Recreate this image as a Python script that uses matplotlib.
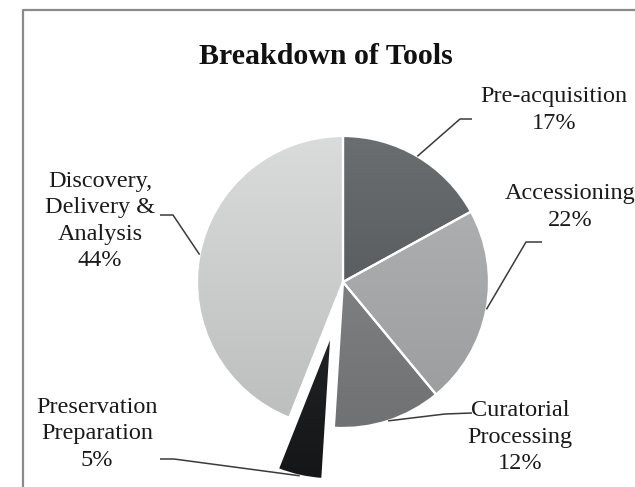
import numpy as np
import matplotlib
matplotlib.use("Agg")
import matplotlib.pyplot as plt
from matplotlib.colors import LinearSegmentedColormap
from matplotlib.patches import Wedge

W, H = 635, 487

# ---- data ----
categories = ["Pre-acquisition", "Accessioning", "Curatorial\nProcessing",
              "Preservation\nPreparation", "Discovery,\nDelivery &\nAnalysis"]
values = [17, 22, 12, 5, 44]
explode_frac = [0, 0, 0, 0.36, 0]
top_colors = ["#6b6e70", "#b3b5b6", "#8b8d8e", "#2c2e30", "#dadbdb"]
bottom_colors = ["#4b4e50", "#999b9c", "#6f7172", "#141618", "#bcbdbd"]
title = "Breakdown of Tools"

# ---- layout (pixel coordinates, y measured from top) ----
center_px = (343, 282)
radius = 146
label_pos = [(554, 110), (570, 207), (520, 437), (97, 434), (100, 221)]
elbow_pos = [(460, 119), (526, 242), (445, 414), (174, 459), (173, 215)]
tail_pos = [(472, 119), (542, 242), (472, 413), (160, 459), (160, 215)]

def px(p):
    return (p[0], H - p[1])

fig = plt.figure(figsize=(W / 100, H / 100), dpi=100)
ax = fig.add_axes([0, 0, 1, 1])

serif = ["Liberation Serif", "DejaVu Serif"]

wedges, _ = ax.pie(values, startangle=90, counterclock=False,
                   explode=[e * radius for e in explode_frac],
                   colors=top_colors, center=px(center_px), radius=radius,
                   wedgeprops=dict(edgecolor="white", linewidth=1.6),
                   frame=True)
ax.set_xlim(0, W)
ax.set_ylim(0, H)
ax.set_aspect("equal")
ax.axis("off")

# gradient fill per wedge
for w, c0, c1 in zip(wedges, top_colors, bottom_colors):
    cmap = LinearSegmentedColormap.from_list("g", [c1, c0])
    cx, cy = w.center
    grad = np.linspace(0, 1, 256).reshape(-1, 1)
    im = ax.imshow(grad, cmap=cmap, origin="lower", aspect="auto",
                   extent=(cx - radius, cx + radius, cy - radius, cy + radius),
                   zorder=w.get_zorder() + 0.1, interpolation="bilinear")
    im.set_clip_path(w)
    edge = Wedge(w.center, w.r, w.theta1, w.theta2, facecolor="none",
                 edgecolor="white", linewidth=1.6, zorder=w.get_zorder() + 0.2)
    ax.add_patch(edge)
ax.set_xlim(0, W)
ax.set_ylim(0, H)

# labels with leader lines
for w, cat, v, lp, ep, tp in zip(wedges, categories, values, label_pos, elbow_pos, tail_pos):
    ang = np.deg2rad((w.theta1 + w.theta2) / 2)
    cx, cy = w.center
    edge_pt = (cx + w.r * np.cos(ang), cy + w.r * np.sin(ang))
    e = px(ep)
    t = px(tp)
    ax.plot([edge_pt[0], e[0], t[0]], [edge_pt[1], e[1], t[1]],
            color="#3a3a3a", linewidth=1.1, zorder=5, solid_capstyle="butt")
    ax.text(*px(lp), f"{cat}\n{v}%", ha="center", va="center",
            fontsize=17.5, family=serif, color="#1a1a1a", linespacing=1.35,
            zorder=6)

ax.text(326, H - 57, title, ha="center", va="center", fontsize=21.5,
        fontweight="bold", family=serif, color="#111111")

# outer frame (left and top edges visible)
ax.plot([23, 23, W + 5], [-5, H - 10, H - 10], color="#8a8a8a",
        linewidth=1.6, zorder=10, clip_on=False)

fig.savefig("out.png", dpi=100, facecolor="white")
